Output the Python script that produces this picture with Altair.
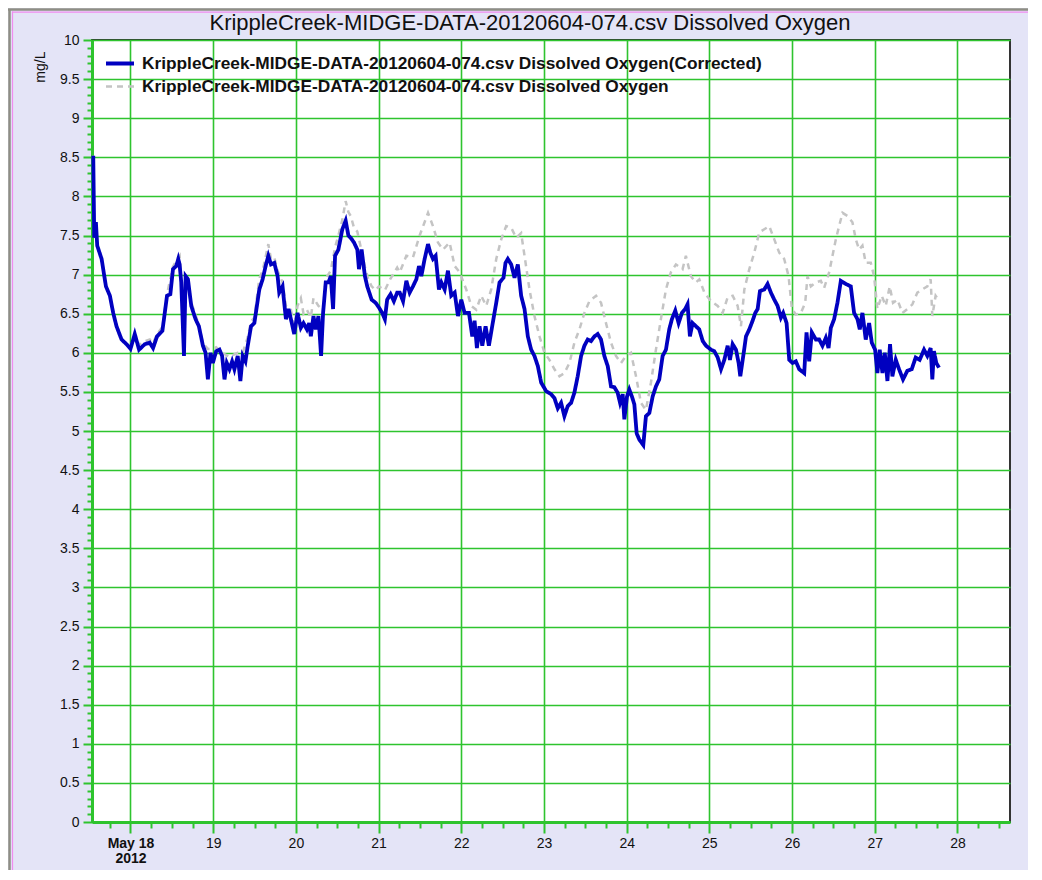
import altair as alt
import numpy as np
import pandas as pd

TITLE = "KrippleCreek-MIDGE-DATA-20120604-074.csv Dissolved Oxygen"
S_CORR = "KrippleCreek-MIDGE-DATA-20120604-074.csv Dissolved Oxygen(Corrected)"
S_RAW = "KrippleCreek-MIDGE-DATA-20120604-074.csv Dissolved Oxygen"

# fractional day-of-May, mg/L
corr_day = [
    17.550, 17.562, 17.582, 17.598, 17.651, 17.703, 17.751, 17.791, 17.831, 17.892,
    17.952, 18.000, 18.052, 18.104, 18.173, 18.233, 18.273, 18.321, 18.386, 18.442,
    18.482, 18.514, 18.554, 18.578, 18.594, 18.614, 18.647, 18.667, 18.695, 18.735,
    18.787, 18.827, 18.876, 18.908, 18.936, 18.968, 18.996, 19.036, 19.076, 19.108,
    19.137, 19.165, 19.197, 19.229, 19.257, 19.297, 19.329, 19.357, 19.390, 19.418,
    19.458, 19.498, 19.558, 19.598, 19.639, 19.667, 19.699, 19.739, 19.779, 19.799,
    19.839, 19.859, 19.880, 19.912, 19.940, 19.980, 20.020, 20.060, 20.092, 20.133,
    20.161, 20.181, 20.213, 20.241, 20.273, 20.305, 20.329, 20.361, 20.394, 20.422,
    20.450, 20.474, 20.514, 20.562, 20.602, 20.635, 20.663, 20.703, 20.743, 20.763,
    20.795, 20.835, 20.863, 20.916, 20.964, 21.004, 21.044, 21.076, 21.104, 21.145,
    21.185, 21.225,
    21.256, 21.296, 21.336, 21.376, 21.416, 21.457, 21.489, 21.517, 21.557, 21.598,
    21.626, 21.658, 21.690, 21.730, 21.759, 21.799, 21.839, 21.879, 21.920, 21.960,
    22.000, 22.040, 22.093, 22.133, 22.161, 22.189, 22.221, 22.254, 22.294, 22.334,
    22.374, 22.423, 22.463, 22.511, 22.535, 22.563, 22.604, 22.644, 22.684, 22.724,
    22.765, 22.805, 22.845, 22.885, 22.926, 22.966, 23.026, 23.087, 23.127, 23.167,
    23.207, 23.247, 23.288, 23.328, 23.368, 23.408, 23.449, 23.489, 23.529, 23.569,
    23.610, 23.650, 23.690, 23.730, 23.771, 23.811, 23.851, 23.891, 23.920, 23.952,
    23.972, 24.004, 24.032, 24.064, 24.093, 24.121, 24.153, 24.201, 24.233, 24.274,
    24.314, 24.354, 24.394, 24.435, 24.475, 24.515, 24.547, 24.588, 24.628, 24.668,
    24.708, 24.736, 24.765, 24.797, 24.837, 24.877,
    24.920, 24.960, 25.020, 25.060, 25.101, 25.141, 25.181, 25.221, 25.249, 25.282,
    25.322, 25.354, 25.374, 25.410, 25.443, 25.483, 25.523, 25.555, 25.584, 25.612,
    25.664, 25.704, 25.744, 25.785, 25.825, 25.865, 25.893, 25.934, 25.966, 26.006,
    26.046, 26.087, 26.147, 26.175, 26.207, 26.239, 26.288, 26.328, 26.368, 26.408,
    26.441, 26.469, 26.509, 26.549, 26.590, 26.650, 26.710, 26.750, 26.791, 26.819,
    26.851, 26.891, 26.932, 26.964, 27.004, 27.032, 27.060, 27.093, 27.121, 27.153,
    27.185, 27.213, 27.254, 27.294, 27.342, 27.394, 27.447, 27.495, 27.543, 27.596,
    27.636, 27.676, 27.696, 27.716, 27.744, 27.777,
]
corr_val = [
    8.52, 7.47, 7.67, 7.37, 7.20, 6.85, 6.73, 6.51, 6.34, 6.17,
    6.11, 6.05, 6.24, 6.04, 6.11, 6.13, 6.06, 6.21, 6.28, 6.73,
    6.75, 7.07, 7.11, 7.20, 7.13, 6.90, 5.96, 6.98, 6.94, 6.60,
    6.43, 6.34, 6.09, 6.00, 5.66, 6.00, 5.87, 6.02, 6.04, 5.96,
    5.66, 5.87, 5.79, 5.89, 5.79, 5.96, 5.64, 5.96, 5.89, 6.09,
    6.34, 6.38, 6.81, 6.94, 7.13, 7.24, 7.13, 7.15, 6.98, 6.77,
    6.85, 6.64, 6.43, 6.56, 6.43, 6.24, 6.51, 6.32, 6.38, 6.30,
    6.38, 6.21, 6.47, 6.30, 6.47, 5.96, 6.51, 6.90, 6.90, 6.98,
    6.56, 7.24, 7.32, 7.58, 7.69, 7.50, 7.47, 7.41, 7.32, 7.07,
    7.32, 6.98, 6.85, 6.68, 6.64, 6.58, 6.51, 6.43, 6.68, 6.75,
    6.66, 6.77,
    6.77, 6.66, 6.92, 6.77, 6.85, 6.94, 7.11, 6.98, 7.20, 7.39,
    7.28, 7.20, 7.24, 6.81, 6.90, 6.81, 7.05, 6.73, 6.77, 6.47,
    6.68, 6.51, 6.51, 6.21, 6.41, 6.06, 6.34, 6.09, 6.34, 6.09,
    6.34, 6.64, 6.90, 6.96, 7.15, 7.20, 7.13, 6.96, 7.13, 6.73,
    6.56, 6.21, 6.04, 5.96, 5.83, 5.62, 5.51, 5.47, 5.42, 5.29,
    5.36, 5.19, 5.32, 5.36, 5.49, 5.70, 5.96, 6.09, 6.17, 6.15,
    6.21, 6.24, 6.17, 5.96, 5.83, 5.57, 5.56, 5.49, 5.36, 5.47,
    5.15, 5.44, 5.53, 5.44, 5.34, 4.97, 4.89, 4.82, 5.19, 5.23,
    5.44, 5.57, 5.66, 5.96, 6.04, 6.30, 6.43, 6.54, 6.38, 6.51,
    6.56, 6.62, 6.21, 6.38, 6.34, 6.30,
    6.15, 6.09, 6.04, 6.02, 5.94, 5.79, 5.91, 6.09, 5.91, 6.11,
    6.04, 5.87, 5.70, 5.96, 6.21, 6.30, 6.41, 6.51, 6.56, 6.79,
    6.81, 6.88, 6.77, 6.68, 6.60, 6.45, 6.51, 6.38, 5.91, 5.87,
    5.89, 5.79, 5.74, 6.26, 5.89, 6.26, 6.17, 6.17, 6.09, 6.19,
    6.06, 6.32, 6.43, 6.64, 6.92, 6.88, 6.85, 6.51, 6.43, 6.30,
    6.51, 6.17, 6.38, 6.13, 6.04, 5.74, 6.04, 5.74, 6.00, 5.64,
    6.11, 5.70, 5.91, 5.79, 5.66, 5.77, 5.79, 5.94, 5.91, 6.04,
    5.96, 6.06, 5.66, 6.02, 5.87, 5.81,
]

raw_day = [
    17.550, 17.562, 17.582, 17.598, 17.651, 17.703, 17.751, 17.791, 17.831, 17.892,
    17.952, 18.000, 18.052, 18.104, 18.173, 18.233, 18.273, 18.321, 18.386, 18.442,
    18.514, 18.554, 18.594, 18.614, 18.647, 18.667, 18.735, 18.787, 18.827, 18.876,
    18.936, 18.996, 19.036, 19.108, 19.197, 19.257, 19.297, 19.357, 19.418, 19.458,
    19.498, 19.558, 19.598, 19.639, 19.667, 19.699, 19.739, 19.779, 19.839, 19.880,
    19.940, 19.980, 20.020, 20.060, 20.092, 20.133, 20.181, 20.213, 20.273, 20.329,
    20.361, 20.422, 20.474, 20.514, 20.562, 20.602, 20.635, 20.663, 20.703, 20.743,
    20.795, 20.835, 20.876, 20.916, 20.964, 21.004, 21.076, 21.145, 21.225,
    21.256, 21.336, 21.416, 21.497, 21.598, 21.658, 21.718, 21.779, 21.859, 21.920,
    21.980, 22.060, 22.121, 22.181, 22.241, 22.302, 22.362, 22.423, 22.483, 22.543,
    22.604, 22.664, 22.724, 22.765, 22.825, 22.885, 22.946, 23.006, 23.066, 23.127,
    23.187, 23.247, 23.308, 23.368, 23.429, 23.489, 23.549, 23.630, 23.690, 23.750,
    23.811, 23.871, 23.932, 23.992, 24.052, 24.113, 24.173, 24.233, 24.294, 24.354,
    24.414, 24.475, 24.535, 24.596, 24.676, 24.716, 24.777, 24.837,
    24.879, 24.940, 25.020, 25.101, 25.161, 25.221, 25.282, 25.342, 25.382, 25.423,
    25.483, 25.543, 25.604, 25.664, 25.724, 25.785, 25.845, 25.905, 25.958, 25.998,
    26.046, 26.107, 26.159, 26.187, 26.227, 26.288, 26.348, 26.388, 26.449, 26.489,
    26.529, 26.569, 26.610, 26.670, 26.730, 26.771, 26.811, 26.851, 26.891, 26.952,
    26.992, 27.032, 27.084, 27.133, 27.181, 27.221, 27.274, 27.334, 27.394, 27.455,
    27.515, 27.575, 27.636, 27.676, 27.696, 27.736, 27.768,
]
raw_val = [
    8.52, 7.47, 7.67, 7.37, 7.20, 6.85, 6.73, 6.51, 6.34, 6.17,
    6.11, 6.07, 6.24, 6.10, 6.15, 6.17, 6.12, 6.24, 6.33, 6.75,
    7.10, 7.18, 7.24, 6.95, 6.00, 7.00, 6.65, 6.48, 6.36, 6.12,
    6.05, 6.05, 6.07, 6.00, 5.95, 5.98, 6.00, 6.00, 6.20, 6.40,
    6.45, 6.95, 7.05, 7.25, 7.39, 7.20, 7.22, 7.05, 6.90, 6.60,
    6.55, 6.35, 6.60, 6.70, 6.50, 6.55, 6.45, 6.70, 6.60, 6.55,
    6.95, 7.05, 7.35, 7.50, 7.70, 7.94, 7.80, 7.75, 7.60, 7.55,
    7.30, 7.10, 6.94, 6.85, 6.80, 6.85, 6.80, 6.95, 7.09,
    7.03, 7.24, 7.22, 7.50, 7.79, 7.62, 7.41, 7.32, 7.41, 7.11,
    7.03, 6.81, 6.60, 6.55, 6.73, 6.60, 6.81, 7.20, 7.45, 7.62,
    7.60, 7.47, 7.53, 7.24, 6.81, 6.47, 6.21, 6.00, 5.91, 5.79,
    5.70, 5.74, 5.87, 6.13, 6.30, 6.51, 6.66, 6.73, 6.64, 6.38,
    6.13, 5.96, 5.87, 5.96, 6.00, 5.70, 5.36, 5.27, 5.62, 6.04,
    6.43, 6.81, 7.03, 7.13, 7.07, 7.24, 6.98, 6.90,
    6.94, 6.77, 6.66, 6.60, 6.51, 6.71, 6.73, 6.60, 6.34, 6.81,
    7.07, 7.28, 7.54, 7.58, 7.62, 7.45, 7.28, 7.20, 6.98, 6.56,
    6.49, 6.51, 6.64, 6.98, 6.85, 6.90, 6.92, 6.83, 7.03, 7.24,
    7.45, 7.62, 7.79, 7.75, 7.67, 7.45, 7.32, 7.37, 7.15, 7.15,
    6.98, 6.56, 6.73, 6.60, 6.85, 6.64, 6.68, 6.51, 6.56, 6.62,
    6.77, 6.81, 6.85, 6.94, 6.47, 6.73, 6.68,
]


def to_time(days):
    ts = pd.Timestamp("2012-05-01") + pd.to_timedelta(np.array(days) - 1.0, unit="D")
    return ts.strftime("%Y-%m-%dT%H:%M:%S")


df = pd.concat([
    pd.DataFrame({"time": to_time(corr_day), "value": corr_val, "series": S_CORR}),
    pd.DataFrame({"time": to_time(raw_day), "value": raw_val, "series": S_RAW}),
], ignore_index=True)

GREEN = "#2EC42E"
FONT = "Liberation Sans"

x_ticks = []
for d in range(17, 29):
    for h in (0, 6, 12, 18):
        if (d == 17 and h < 18) or (d == 28 and h > 12):
            continue
        x_ticks.append(alt.DateTime(year=2012, month=5, date=d, hours=h))
y_ticks = [round(i * 0.1, 1) for i in range(101)]

x_scale = alt.Scale(domain=[alt.DateTime(year=2012, month=5, date=17, hours=12, minutes=50),
                            alt.DateTime(year=2012, month=5, date=28, hours=15, minutes=15)])
y_scale = alt.Scale(domain=[0, 10], nice=False, zero=False)

major_x = "hours(datum.value) == 0"
major_y = "abs(datum.value * 2 - round(datum.value * 2)) < 0.001"

x_axis = alt.Axis(
    title=None, values=x_ticks, grid=True,
    gridColor=GREEN, gridWidth=1.6,
    gridOpacity={"condition": {"test": major_x, "value": 1}, "value": 0},
    tickColor=GREEN, tickWidth=2,
    tickSize={"condition": {"test": major_x, "value": 11}, "value": 6},
    domainColor=GREEN, domainWidth=3,
    labelExpr="hours(datum.value) != 0 ? '' : (date(datum.value) == 18 ? ['May 18', '2012'] : '' + date(datum.value))",
    labelFontWeight={"condition": {"test": "date(datum.value) == 18", "value": "bold"}, "value": "normal"},
    labelFont=FONT, labelFontSize=14, labelColor="#111111", labelLineHeight=15,
    labelPadding=3, labelOverlap=False, labelFlush=False, labelBaseline="top",
)
y_axis = alt.Axis(
    title="mg/L", values=y_ticks, grid=True,
    gridColor=GREEN, gridWidth=1.6,
    gridOpacity={"condition": {"test": major_y, "value": 1}, "value": 0},
    tickColor=GREEN, tickWidth=2,
    tickSize={"condition": {"test": major_y, "value": 9}, "value": 5},
    domainColor=GREEN, domainWidth=3,
    labelExpr=major_y + " ? format(datum.value, '.1~f') : ''",
    labelFont=FONT, labelFontSize=14, labelColor="#111111", labelPadding=4,
    labelOverlap=False, labelFlush=False,
    titleFont=FONT, titleFontSize=14, titleFontWeight="normal", titleColor="#111111",
    titleAnchor="end", titlePadding=12, titleY=11,
)

color_scale = alt.Scale(domain=[S_CORR, S_RAW], range=["#0000C0", "#C4C4C4"])
dash_scale = alt.Scale(domain=[S_CORR, S_RAW], range=[[1, 0], [6, 5]])
width_scale = alt.Scale(domain=[S_CORR, S_RAW], range=[3.8, 2.5])

legend = alt.Legend(
    title=None, orient="none", legendX=12, legendY=12,
    symbolType="stroke", symbolSize=784, clipHeight=23, rowPadding=0,
    labelFont=FONT, labelFontSize=17.3, labelFontWeight="bold", labelColor="#111111",
    labelLimit=900, labelOffset=6,
)

base = alt.Chart(df).encode(
    x=alt.X("time:T", scale=x_scale, axis=x_axis),
    y=alt.Y("value:Q", scale=y_scale, axis=y_axis),
    color=alt.Color("series:N", scale=color_scale, legend=legend),
    strokeDash=alt.StrokeDash("series:N", scale=dash_scale, legend=legend),
    strokeWidth=alt.StrokeWidth("series:N", scale=width_scale, legend=legend),
)

raw_line = base.transform_filter(alt.datum.series == S_RAW).mark_line(interpolate="linear")
corr_line = base.transform_filter(alt.datum.series == S_CORR).mark_line(interpolate="linear")

frame_df = pd.DataFrame({"a": [0]})
frame = alt.Chart(frame_df)
top_gray = frame.mark_rule(color="#8E8E84", strokeWidth=2.5).encode(
    x=alt.value(-84), x2=alt.value(960), y=alt.value(-30.5))
top_pink = frame.mark_rule(color="#F08CF0", strokeWidth=1.2).encode(
    x=alt.value(-80), x2=alt.value(960), y=alt.value(-27.8))
left_gray = frame.mark_rule(color="#8E8E84", strokeWidth=2.5).encode(
    x=alt.value(-82.5), y=alt.value(-30.5), y2=alt.value(845))
left_pink = frame.mark_rule(color="#F08CF0", strokeWidth=1.2).encode(
    x=alt.value(-79.5), y=alt.value(-28.5), y2=alt.value(845))

chart = alt.layer(raw_line, corr_line, top_gray, top_pink, left_gray, left_pink).properties(
    width=918, height=782,
    background="#E4E4F7",
    padding={"left": 84, "top": 32, "right": 18, "bottom": 48},
    autosize=alt.AutoSizeParams(type="none"),
    title=alt.TitleParams(TITLE, font=FONT, fontSize=22, fontWeight="normal", color="#111111",
                          anchor="middle", frame="group", dx=-21, offset=0, dy=27),
).configure_view(
    fill="white", stroke="#333333", strokeWidth=2,
)

chart.save("out.html", embed_options={"renderer": "svg", "actions": False})
